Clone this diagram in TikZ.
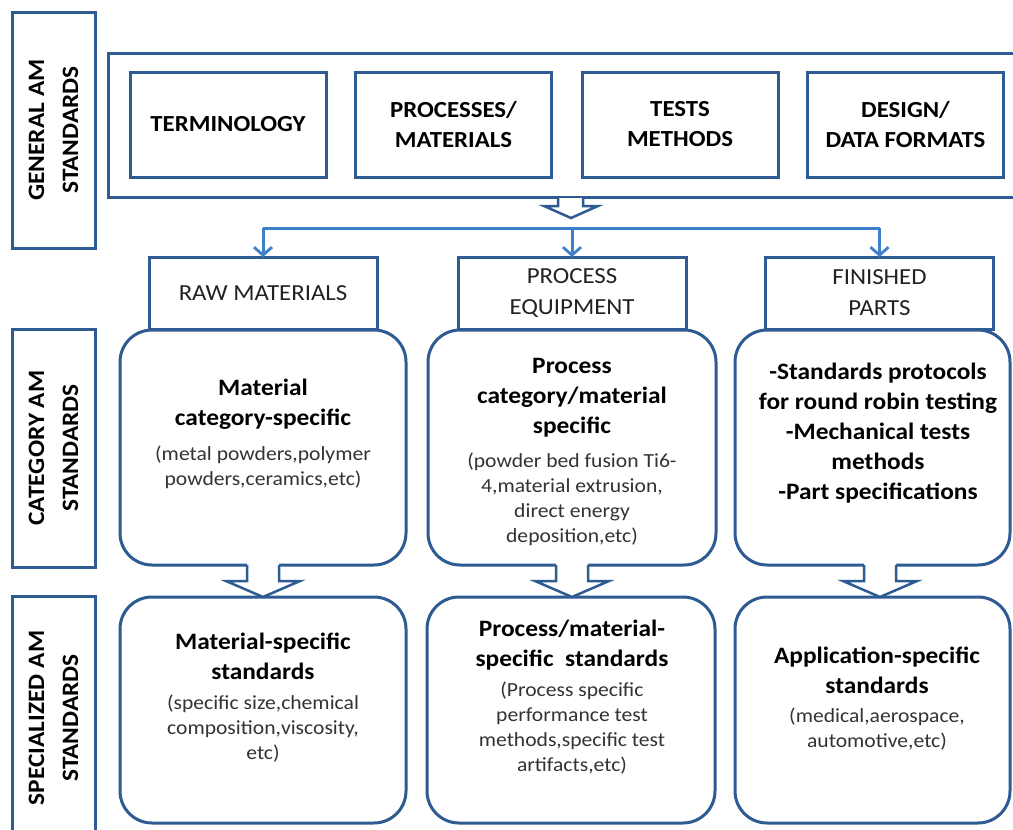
\documentclass[tikz,border=0pt]{standalone}
\usepackage{fontspec}
\setmainfont{Carlito}[FakeStretch=1.08]
\usetikzlibrary{arrows.meta}

\definecolor{boxblue}{HTML}{2F5B93}
\definecolor{linkblue}{HTML}{3F80CB}
\definecolor{subgray}{HTML}{333333}
\definecolor{headgray}{HTML}{222222}

\tikzset{
  frame/.style={draw=boxblue, line width=3pt, fill=white, rectangle,
    inner sep=0pt, outer sep=0pt},
  topbox/.style={frame, minimum width=196pt, minimum height=105pt,
    align=center, font=\fontsize{23}{30}\selectfont\bfseries},
  sidebox/.style={frame, minimum width=83pt},
  sidetext/.style={rotate=90, align=center,
    font=\fontsize{23.5}{34}\selectfont\bfseries},
  headbox/.style={frame, minimum width=228pt, minimum height=72pt,
    align=center, text=headgray, font=\fontsize{23}{31}\selectfont},
  roundbox/.style={frame, rounded corners=32pt},
  titletext/.style={align=center, inner sep=0pt,
    font=\fontsize{23.5}{30}\selectfont\bfseries},
  subtext/.style={align=center, inner sep=0pt, text=subgray,
    font=\fontsize{20}{25}\selectfont},
  bus/.style={draw=linkblue, line width=3pt},
  busarrow/.style={bus, -{Straight Barb[length=8pt, width=18pt, line width=2.8pt]}},
  blockarrow/.style={draw=boxblue, line width=2.5pt, line join=miter}
}

\begin{document}
\begin{tikzpicture}[x=1pt, y=-1pt]
  \useasboundingbox (0,0) rectangle (1013,830);
  \fill[white] (0,0) rectangle (1013,830);
  \clip (0,0) rectangle (1013,830);

  % row labels on the left
  \node[sidebox, minimum height=236pt] (genbox) at (53.5,130) {};
  \node[sidetext] (gentext) at (genbox.center) {GENERAL AM\\STANDARDS};
  \node[sidebox, minimum height=238pt] (catbox) at (53.5,448) {};
  \node[sidetext] (cattext) at (catbox.center) {CATEGORY AM\\STANDARDS};
  \node[sidebox, minimum height=254pt] (specbox) at (53.5,723) {};
  \node[sidetext] (spectext) at (53.5,718) {SPECIALIZED AM\\STANDARDS};

  % general standards
  \node[frame, minimum width=922pt, minimum height=144pt] (general) at (569,125) {};
  \node[topbox] (term)   at (228,124.5)   {TERMINOLOGY};
  \node[topbox] (procm)  at (453.5,124.5) {PROCESSES/\\MATERIALS};
  \node[topbox] (tests)  at (680,124.5)   {TESTS\\METHODS};
  \node[topbox] (design) at (905.5,124.5) {DESIGN/\\DATA FORMATS};

  % hollow arrow under the general block
  \coordinate (gentip) at (571,218);
  \fill[white] (558,198) -- (558,206) -- (544,206) -- (gentip) -- (598,206) -- (583,206) -- (583,198) -- cycle;
  \draw[blockarrow] (558,197) -- (558,206) -- (544,206) -- (gentip) -- (598,206) -- (583,206) -- (583,197);

  % category rounded boxes
  \node[roundbox, minimum width=286pt, minimum height=235pt] (catraw)  at (263,447.5) {};
  \node[roundbox, minimum width=288pt, minimum height=235pt] (catproc) at (572,447.5) {};
  \node[roundbox, minimum width=275pt, minimum height=235pt] (catfin)  at (872.5,447.5) {};

  % category headers
  \node[headbox] (raw)  at (263,293) {RAW MATERIALS};
  \node[headbox] (equip) at (572,293) {PROCESS\\EQUIPMENT};
  \node[headbox] (fin)  at (879.5,293) {FINISHED\\PARTS};

  % distribution line
  \coordinate (busL) at (263,228);
  \coordinate (busM) at (572,228);
  \coordinate (busR) at (879.5,228);
  \draw[bus] (busL) -- (busR);
  \draw[busarrow] (busL) -- (raw.north);
  \draw[busarrow] (busM) -- (equip.north);
  \draw[busarrow] (busR) -- (fin.north);

  % category texts
  \node[titletext] (t1) at (263,404) {Material\\category-specific};
  \node[subtext]   (s1) at (263,467) {(metal powders,polymer\\powders,ceramics,etc)};
  \node[titletext] (t2) at (572,398) {Process\\category/material\\specific};
  \node[subtext]   (s2) at (572,499) {(powder bed fusion Ti6-\\4,material extrusion,\\direct energy\\deposition,etc)};
  \node[titletext] (t3) at (878,433) {-Standards protocols\\for round robin testing\\-Mechanical tests\\methods\\-Part specifications};

  % specialized rounded boxes
  \node[roundbox, minimum width=286pt, minimum height=226pt] (spraw)  at (263,710) {};
  \node[roundbox, minimum width=288pt, minimum height=226pt] (spproc) at (571,710) {};
  \node[roundbox, minimum width=275pt, minimum height=226pt] (spfin)  at (872.5,710) {};

  % hollow arrows between category and specialized rows
  \foreach \cx/\nm in {263/a, 572/b, 880/c}{
    \coordinate (tip\nm) at (\cx,597);
    \fill[white] (\cx-16,563) -- (\cx-16,581) -- (\cx-37,581) -- (tip\nm) -- (\cx+37,581) -- (\cx+16,581) -- (\cx+16,563) -- cycle;
    \draw[blockarrow] (\cx-16,565) -- (\cx-16,581) -- (\cx-37,581) -- (tip\nm) -- (\cx+37,581) -- (\cx+16,581) -- (\cx+16,565);
  }

  % specialized texts
  \node[titletext] (t4) at (263,656) {Material-specific\\standards};
  \node[subtext]   (s4) at (263,729) {(specific size,chemical\\composition,viscosity,\\etc)};
  \node[titletext] (t5) at (572,645) {Process/material-\\specific\hspace{0.25em} standards};
  \node[subtext]   (s5) at (572,728) {(Process specific\\performance test\\methods,specific test\\artifacts,etc)};
  \node[titletext] (t6) at (877,670) {Application-specific\\standards};
  \node[subtext]   (s6) at (877,729) {(medical,aerospace,\\automotive,etc)};
\end{tikzpicture}
\end{document}
